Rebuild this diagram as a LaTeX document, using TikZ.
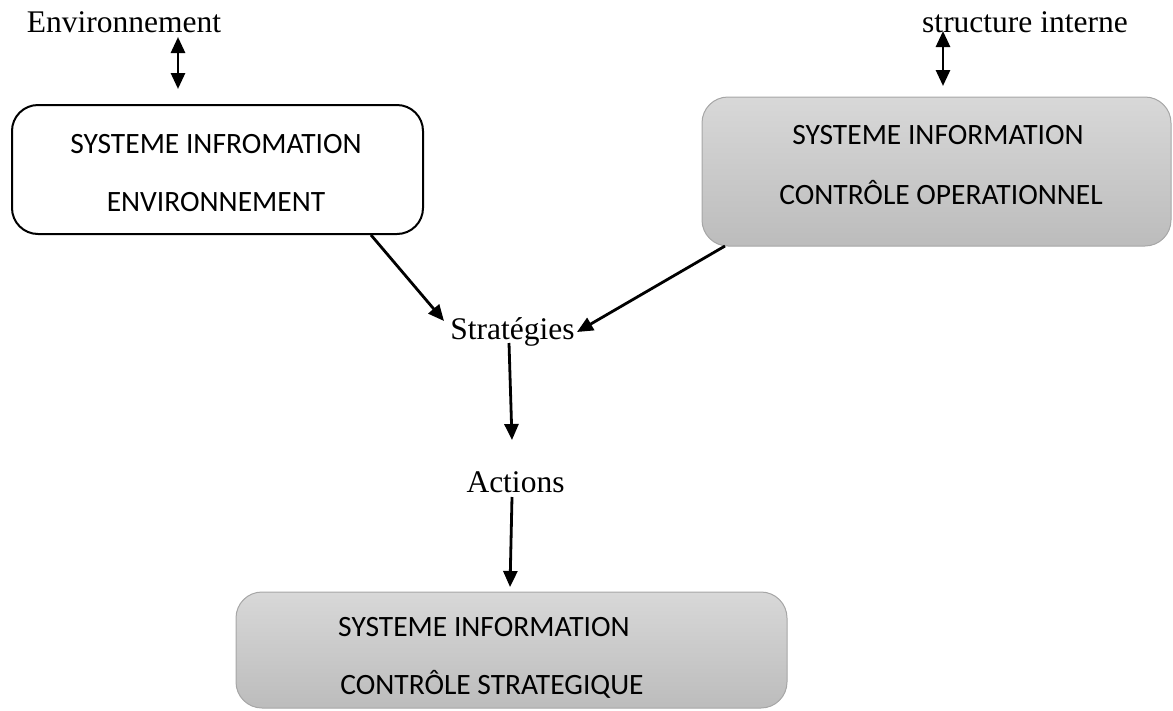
\documentclass[tikz,border=0pt]{standalone}
\usepackage{fontspec}
\setmainfont{Liberation Serif}
\newfontfamily\boxfont{Carlito}
\usetikzlibrary{arrows.meta}
\definecolor{gtop}{HTML}{D8D8D8}
\definecolor{gbot}{HTML}{BCBCBC}
\definecolor{gedge}{HTML}{A6A6A6}
\begin{document}
\begin{tikzpicture}[x=1pt,y=-1pt,
  lbl/.style={font=\fontsize{31.5}{36}\selectfont, inner sep=0pt, anchor=base},
  btxt/.style={font=\boxfont\fontsize{29.5}{34}\selectfont, inner sep=0pt, anchor=base},
  whitebox/.style={draw=black, line width=2pt, rounded corners=26pt, fill=white},
  graybox/.style={draw=gedge, line width=1pt, rounded corners=26pt, top color=gtop, bottom color=gbot},
  arr/.style={line width=2.8pt, -{Triangle[length=16pt,width=14pt]}},
  darr/.style={line width=2.8pt, {Triangle[length=16pt,width=14pt]}-{Triangle[length=16pt,width=14pt]}}
]
\useasboundingbox (0,0) rectangle (1173,710);
% boxes
\node[whitebox, minimum width=411pt, minimum height=129pt, inner sep=0pt] (b1) at (217.5,169.5) {};
\node[graybox, minimum width=469pt, minimum height=149pt, inner sep=0pt] (b2) at (936.5,171.5) {};
\node[graybox, minimum width=551pt, minimum height=116pt, inner sep=0pt] (b3) at (511.5,650) {};
% box texts
\node[btxt] (t1a) at (216,153) {SYSTEME INFROMATION};
\node[btxt] (t1b) at (216,211) {ENVIRONNEMENT};
\node[btxt] (t2a) at (938,144) {SYSTEME INFORMATION};
\node[btxt] (t2b) at (941,204) {CONTRÔLE OPERATIONNEL};
\node[btxt] (t3a) at (484,636) {SYSTEME INFORMATION};
\node[btxt] (t3b) at (492,694) {CONTRÔLE STRATEGIQUE};
% labels
\node[lbl] (env) at (124,32) {Environnement};
\node[lbl] (si) at (1025,32) {structure interne};
\node[lbl] (strat) at (512.5,339) {Stratégies};
\node[lbl] (act) at (515.5,492) {Actions};
% connector endpoints
\coordinate (e1) at (178,37);
\coordinate (e2) at (178,89);
\coordinate (s1) at (943,31);
\coordinate (s2) at (943,86);
\coordinate (p1) at (371,235);
\coordinate (q1) at (444,321);
\coordinate (p2) at (725,246);
\coordinate (q2) at (577,332);
\coordinate (p3) at (509,343);
\coordinate (q3) at (512,440);
\coordinate (p4) at (512,497);
\coordinate (q4) at (510,587);
\draw[darr] (e1) -- (e2);
\draw[darr] (s1) -- (s2);
\draw[arr] (p1) -- (q1);
\draw[arr] (p2) -- (q2);
\draw[arr] (p3) -- (q3);
\draw[arr] (p4) -- (q4);
\end{tikzpicture}
\end{document}
